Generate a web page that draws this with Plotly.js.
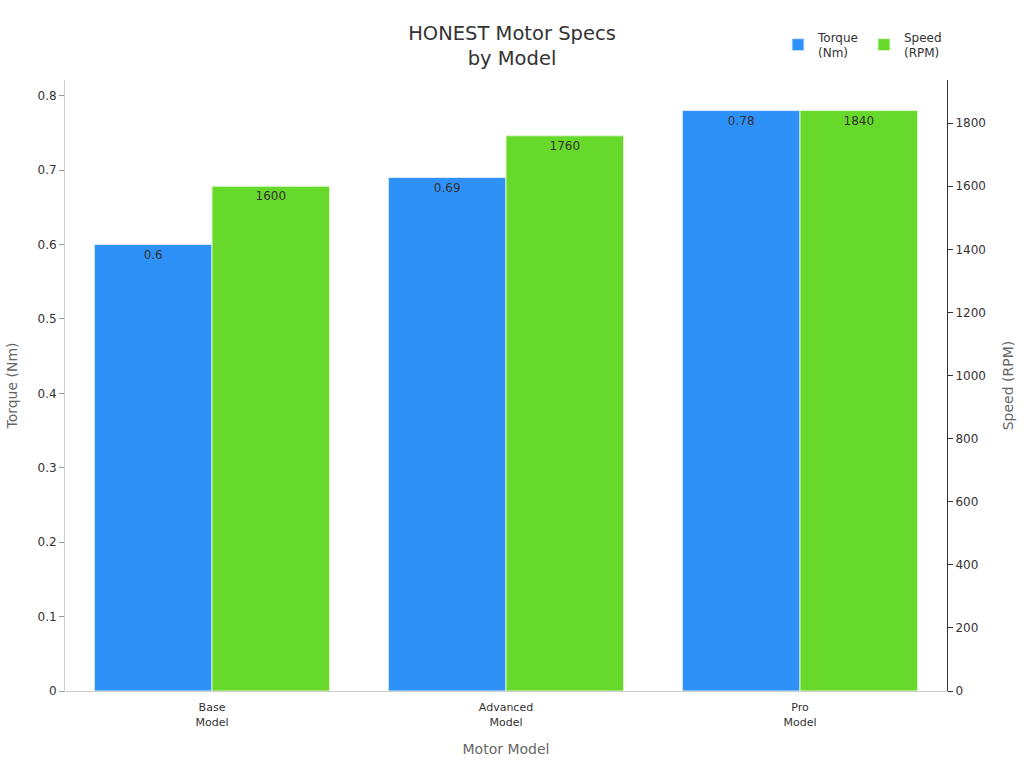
<!DOCTYPE html>
<html><head><meta charset="utf-8">
<script src="https://cdn.plot.ly/plotly-3.0.1.min.js"></script>
<style>html,body{margin:0;padding:0;background:#fff}#chart{width:1024px;height:768px}</style>
</head><body><div id="chart"></div>
<script>
var categories = ["Base<br>Model", "Advanced<br>Model", "Pro<br>Model"];
var torqueValues = [0.6, 0.69, 0.78];
var speedValues = [1600, 1760, 1840];
var seriesNames = ["Torque<br>(Nm)", "Speed<br>(RPM)"];

var font = "DejaVu Sans, Verdana, sans-serif";
var traces = [
  {type:"bar", x:categories, y:torqueValues, name:seriesNames[0], yaxis:"y", offsetgroup:"1",
   marker:{color:"#2e91f8", line:{color:"#d8e8f8", width:1}},
   text:torqueValues.map(String), textposition:"inside", insidetextanchor:"end",
   textfont:{color:"#333", size:12, family:font}},
  {type:"bar", x:categories, y:speedValues, name:seriesNames[1], yaxis:"y2", offsetgroup:"2",
   marker:{color:"#66d92a", line:{color:"#e0f5d0", width:1}},
   text:speedValues.map(String), textposition:"inside", insidetextanchor:"end",
   textfont:{color:"#333", size:12, family:font}}
];
var layout = {
  width:1024, height:768,
  margin:{l:65, r:77, t:80, b:77, autoexpand:false},
  paper_bgcolor:"#fff", plot_bgcolor:"#fff",
  font:{family:font, color:"#333"},
  barmode:"group", bargap:0.2, bargroupgap:0,
  title:{text:"HONEST Motor Specs<br>by Model", x:0.5, xanchor:"center", y:0.948, font:{size:19.5, color:"#333", family:font}},
  showlegend:true,
  legend:{orientation:"h", x:1.0, xanchor:"right", y:1.094, yanchor:"top", font:{size:12, color:"#333"}},
  xaxis:{title:{text:"Motor Model", font:{size:14, color:"#666"}, standoff:16}, tickfont:{size:11, color:"#333"},
    showline:true, linecolor:"#ccc", ticks:"", showgrid:false, ticklabelstandoff:6},
  yaxis:{title:{text:"Torque (Nm)", font:{size:14, color:"#666"}, standoff:16}, tickfont:{size:12, color:"#333"},
    showline:true, linecolor:"#ccc", ticks:"outside", ticklen:5, tickcolor:"#999", showgrid:false, zeroline:false,
    dtick:0.1, rangemode:"tozero"},
  yaxis2:{title:{text:"Speed (RPM)", font:{size:14, color:"#666"}, standoff:18}, tickfont:{size:12, color:"#333"},
    overlaying:"y", side:"right", showline:true, linecolor:"#333", ticks:"outside", ticklen:5, tickcolor:"#333",
    showgrid:false, zeroline:false, dtick:200, rangemode:"tozero"}
};
Plotly.newPlot("chart", traces, layout, {displayModeBar:false});
</script></body></html>
